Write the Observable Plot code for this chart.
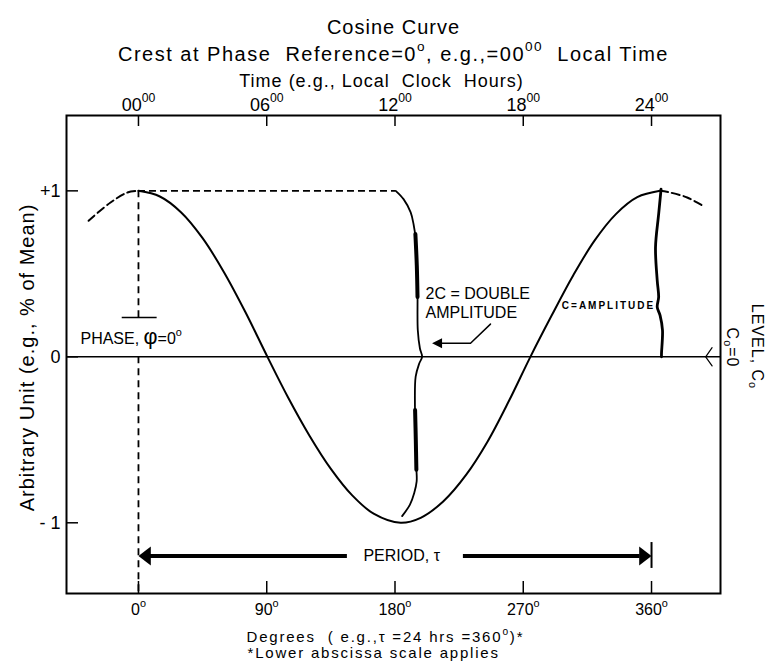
<!DOCTYPE html>
<html><head><meta charset="utf-8">
<script src="https://cdn.jsdelivr.net/npm/d3@7"></script>
<script src="https://cdn.jsdelivr.net/npm/@observablehq/plot@0.6"></script>
<style>
body{margin:0;background:#fff;}
svg text{white-space:pre;}
</style></head><body><div id="chart"></div>
<script>
// ---- scales / ticks ----
const xDomain = [-50.5, 408.4];
const yDomain = [-1.426, 1.454];
const degreeTicks = [0, 90, 180, 270, 360];
const hourLabels = ["00", "06", "12", "18", "24"];
const yTicks = [1, 0, -1];
const yTickLabels = ["+1", "0", "- 1"];

// ---- main cosine curve ----
const curveDeg = [0, 15, 30, 45, 60, 75, 90.5, 105, 120, 135, 150, 165, 183.9, 198, 214, 230, 245, 260, 275, 290, 305, 320, 335, 350, 366];
const curveVal = [1.0, 0.966, 0.87, 0.715, 0.51, 0.27, 0.0, -0.245, -0.475, -0.675, -0.835, -0.945, -1.0, -0.97, -0.87, -0.71, -0.51, -0.265, 0.0, 0.25, 0.49, 0.70, 0.86, 0.962, 1.0];
const dashLeftDeg = [-35, -19.6, -7.7, 0];
const dashLeftVal = [0.82, 0.93, 0.99, 1.0];
const dashRightDeg = [366, 373, 385, 396];
const dashRightVal = [1.0, 0.99, 0.96, 0.91];

// ---- 2C brace ----
const braceDeg = [180.5, 186, 191, 193, 194.5, 195.3, 195.8, 196, 197.5, 199, 197, 194.5, 194, 194.6, 195, 195.2, 193.5, 190.5, 185];
const braceVal = [1.0, 0.95, 0.87, 0.80, 0.71, 0.55, 0.38, 0.16, 0.05, 0, -0.04, -0.12, -0.3, -0.5, -0.67, -0.75, -0.82, -0.89, -0.96];
const braceThickDeg = [[194.3, 195.3, 195.8], [194.1, 194.6, 195]];
const braceThickVal = [[0.74, 0.55, 0.36], [-0.32, -0.5, -0.68]];

// ---- C amplitude bar ----
const ampDeg = [366.7, 365, 362.8, 364, 365, 364, 366, 367.7, 367, 367];
const ampVal = [1.01, 0.86, 0.66, 0.46, 0.36, 0.30, 0.25, 0.16, 0.02, 0];

// ---- annotations ----
const crestLine = {val: 1, from: 0, to: 180.5};
const phaseBar = {val: 0.237, from: -11.4, to: 13.1};
const phaseLabel = {deg: -40.7, val: 0.106, text: "PHASE, ~{φ}=0^{o}"};
const doubleAmpLabel = {deg: 201.4, val: 0.33, text: "2C = DOUBLE\nAMPLITUDE"};
const doubleAmpArrowDeg = [247, 233, 210];
const doubleAmpArrowVal = [0.197, 0.082, 0.082];
const doubleAmpTip = {deg: 206, val: 0.082};
const ampLabel = {deg: 362.6, val: 0.31, text: "C=AMPLITUDE"};
const levelChevronDeg = [402.5, 398, 402.5];
const levelChevronVal = [0.055, 0.0, -0.055];
const periodVal = -1.2;
const periodShafts = [[3, 146.6], [228, 352]];
const periodEnds = [0, 360];
const periodBar = {deg: 360, from: -1.119, to: -1.275};
const periodLabel = {deg: 184.7, val: -1.2, text: "PERIOD, τ"};

// ---- texts ----
const titleText = "Cosine Curve";
const subtitleText = "Crest at Phase  Reference=0^{o}, e.g.,=00^{00}  Local Time";
const topAxisTitle = "Time (e.g., Local  Clock  Hours)";
const yAxisTitle = "Arbitrary Unit (e.g., % of Mean)";
const levelText1 = "LEVEL, C_{o}";
const levelText2 = "C_{o}=0";
const bottomTitle1 = "Degrees  ( e.g.,τ =24 hrs =360^{o})*";
const bottomTitle2 = "*Lower abscissa scale applies";

const pts = (xs, ys) => xs.map((d, i) => ({deg: d, val: ys[i]}));

function arrowSymbol(dir, ratio) {
  return {draw(ctx, size) {
    const r = Math.sqrt(size / Math.PI);
    const L = ratio * r * dir;
    ctx.moveTo(0, 0); ctx.lineTo(L, -r); ctx.lineTo(L, r); ctx.closePath();
  }};
}
const pointLeft = arrowSymbol(1, 1.3);
const pointRight = arrowSymbol(-1, 1.3);
const smallLeft = arrowSymbol(1, 2.0);

const chart = Plot.plot({
  width: 765, height: 668,
  marginTop: 115, marginLeft: 66, marginRight: 45, marginBottom: 75,
  style: {fontFamily: "'Liberation Sans', Arial, sans-serif", fontSize: "16px", background: "#fff", color: "#000"},
  x: {domain: xDomain, label: null},
  y: {domain: yDomain, label: null},
  marks: [
    Plot.ruleY([0], {stroke: "#000", strokeWidth: 1.5}),
    Plot.ruleX([0], {y1: crestLine.val, y2: phaseBar.val, strokeDasharray: "7,5", strokeWidth: 1.8}),
    Plot.ruleX([0], {y1: 0, y2: yDomain[0], strokeDasharray: "7,5", strokeWidth: 1.8}),
    Plot.ruleY([crestLine.val], {x1: crestLine.from, x2: crestLine.to, strokeDasharray: "7,4", strokeWidth: 1.8}),
    Plot.line(pts(dashLeftDeg, dashLeftVal), {x: "deg", y: "val", curve: "catmull-rom", strokeWidth: 2, strokeDasharray: "8,4"}),
    Plot.line(pts(dashRightDeg, dashRightVal), {x: "deg", y: "val", curve: "catmull-rom", strokeWidth: 2, strokeDasharray: "8,4"}),
    Plot.line(pts(curveDeg, curveVal), {x: "deg", y: "val", curve: "catmull-rom", strokeWidth: 2}),
    Plot.line(pts(braceDeg, braceVal), {x: "deg", y: "val", curve: "catmull-rom", strokeWidth: 1.8}),
    ...braceThickDeg.map((xs, k) => Plot.line(pts(xs, braceThickVal[k]), {x: "deg", y: "val", curve: "catmull-rom", strokeWidth: 4})),
    Plot.line(pts(ampDeg, ampVal), {x: "deg", y: "val", curve: "catmull-rom", strokeWidth: 2.8}),
    Plot.ruleY([phaseBar.val], {x1: phaseBar.from, x2: phaseBar.to, strokeWidth: 1.5}),
    Plot.text([phaseLabel], {x: "deg", y: "val", text: "text", textAnchor: "start", fontSize: 16}),
    Plot.text([doubleAmpLabel], {x: "deg", y: "val", text: "text", textAnchor: "start", fontSize: 16, lineHeight: 1.2}),
    Plot.line(pts(doubleAmpArrowDeg, doubleAmpArrowVal), {x: "deg", y: "val", strokeWidth: 1.5}),
    Plot.dot([doubleAmpTip], {x: "deg", y: "val", symbol: smallLeft, r: 5, fill: "#000", stroke: "none"}),
    Plot.text([ampLabel], {x: "deg", y: "val", text: "text", textAnchor: "end", fontSize: 10, fontWeight: "bold", className: "ls2"}),
    Plot.line(pts(levelChevronDeg, levelChevronVal), {x: "deg", y: "val", strokeWidth: 1.2}),
    ...periodShafts.map(s => Plot.ruleY([periodVal], {x1: s[0], x2: s[1], strokeWidth: 4})),
    Plot.ruleX([periodBar.deg], {y1: periodBar.from, y2: periodBar.to, strokeWidth: 2}),
    Plot.dot([periodEnds[0]], {x: d => d, y: () => periodVal, symbol: pointLeft, r: 9.5, fill: "#000", stroke: "none"}),
    Plot.dot([periodEnds[1]], {x: d => d, y: () => periodVal, symbol: pointRight, r: 9.5, fill: "#000", stroke: "none"}),
    Plot.text([periodLabel], {x: "deg", y: "val", text: "text", fontSize: 16}),
    Plot.frame({stroke: "#000", strokeWidth: 2}),
    Plot.axisX(degreeTicks, {anchor: "bottom", tickSize: -12, tickPadding: 22.6, tickFormat: d => d + "^{o}", fontSize: 16, label: null, strokeWidth: 1.5}),
    Plot.axisX(degreeTicks, {anchor: "top", tickSize: -10, tickPadding: 15, tickFormat: d => hourLabels[degreeTicks.indexOf(d)] + "^{00}", fontSize: 18, label: null, strokeWidth: 1.5}),
    Plot.axisY(yTicks, {anchor: "left", tickSize: -12, tickPadding: 18, tickFormat: d => yTickLabels[yTicks.indexOf(d)], fontSize: 18, label: null, strokeWidth: 1.5}),
    Plot.text([titleText], {frameAnchor: "top", dy: -96, fontSize: 20, className: "ls1"}),
    Plot.text([subtitleText], {frameAnchor: "top", dy: -69, fontSize: 20, className: "ls15"}),
    Plot.text([topAxisTitle], {frameAnchor: "top", dx: -12, dy: -41, fontSize: 18, className: "ls1"}),
    Plot.text([yAxisTitle], {frameAnchor: "left", textAnchor: "middle", rotate: -90, dx: -39, dy: 3, fontSize: 20, className: "ls1"}),
    Plot.text([levelText1], {frameAnchor: "right", textAnchor: "middle", rotate: 90, dx: 37, dy: -8, fontSize: 16, className: "ls1"}),
    Plot.text([levelText2], {frameAnchor: "right", textAnchor: "middle", rotate: 90, dx: 12, dy: -7, fontSize: 16, className: "ls1"}),
    Plot.text([bottomTitle1], {frameAnchor: "bottom-left", textAnchor: "start", dx: 180, dy: 48, fontSize: 15, className: "ls18"}),
    Plot.text([bottomTitle2], {frameAnchor: "bottom-left", textAnchor: "start", dx: 181, dy: 64, fontSize: 15, className: "ls18"})
  ]
});
document.getElementById("chart").append(chart);

// letter spacing for classed groups
const sel = d3.select(chart);
sel.selectAll(".ls1 text, text.ls1").style("letter-spacing", "1px");
sel.selectAll(".ls15 text, text.ls15").style("letter-spacing", "1.5px");
sel.selectAll(".ls18 text, text.ls18").style("letter-spacing", "1.8px");
sel.selectAll(".ls2 text, text.ls2").style("letter-spacing", "2px");

// markup: ^{..} superscript, _{..} subscript, ~{..} enlarged
function richText(root) {
  const NS = "http://www.w3.org/2000/svg";
  root.querySelectorAll("text").forEach(el => {
    const spans = el.querySelectorAll("tspan");
    const targets = spans.length ? Array.from(spans) : [el];
    targets.forEach(t => {
      const s = t.textContent;
      if (!/[\^_~]\{/.test(s)) return;
      t.textContent = "";
      s.split(/([\^_~]\{[^}]*\})/).forEach(p => {
        if (!p) return;
        const m = p.match(/^([\^_~])\{([^}]*)\}$/);
        const ts = document.createElementNS(NS, "tspan");
        if (m) {
          ts.textContent = m[2];
          if (m[1] === "~") ts.setAttribute("font-size", "1.35em");
          else {
            ts.setAttribute("font-size", "0.68em");
            ts.setAttribute("baseline-shift", m[1] === "^" ? "75%" : "-30%");
          }
        } else ts.textContent = p;
        t.appendChild(ts);
      });
    });
  });
}
richText(chart);
</script></body></html>
